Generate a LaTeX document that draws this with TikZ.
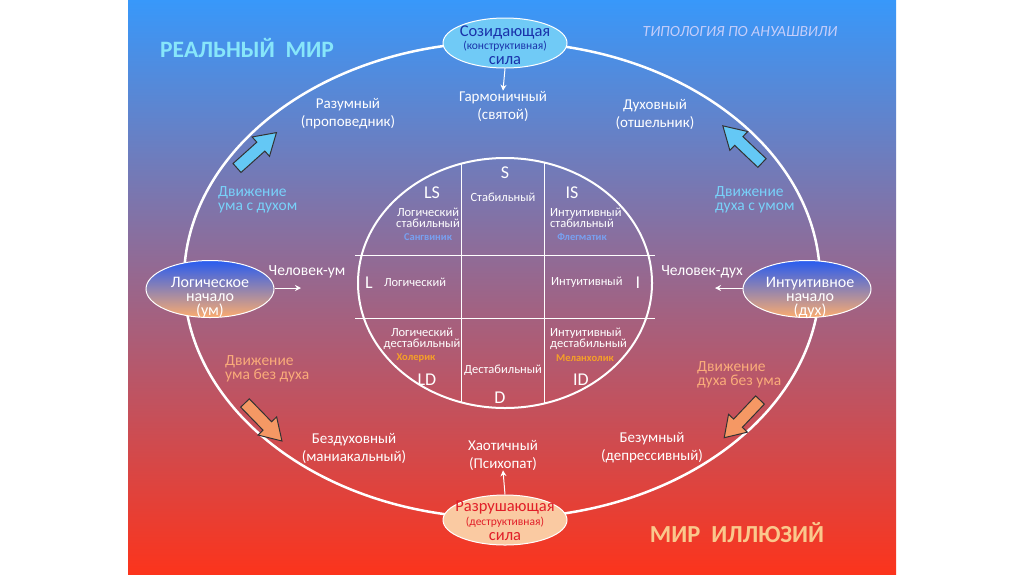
\documentclass[tikz,border=0pt]{standalone}
\usepackage{fontspec}
\setmainfont{Carlito}
\usetikzlibrary{shapes.geometric,arrows.meta}
\definecolor{bgtop}{RGB}{56,152,250}
\definecolor{bgmid}{RGB}{196,96,178}
\definecolor{bgbot}{RGB}{252,52,28}
\definecolor{realc}{RGB}{135,230,250}
\definecolor{typc}{RGB}{198,206,250}
\definecolor{illc}{RGB}{250,200,140}
\definecolor{moveblue}{RGB}{120,210,250}
\definecolor{movepeach}{RGB}{250,172,122}
\definecolor{sangc}{RGB}{120,160,240}
\definecolor{cholc}{RGB}{245,160,40}
\definecolor{topfill}{RGB}{112,202,246}
\definecolor{toptext}{RGB}{25,50,170}
\definecolor{botfill}{RGB}{250,202,162}
\definecolor{bottext}{RGB}{225,30,40}
\definecolor{ablue}{RGB}{100,200,245}
\definecolor{aorange}{RGB}{245,152,100}
\definecolor{ellblue}{RGB}{40,92,240}
\definecolor{ellmid}{RGB}{196,112,172}
\definecolor{ellorange}{RGB}{252,172,110}
\begin{document}
\begin{tikzpicture}[x=1pt,y=-1pt,
  lbl/.style={text=white,font=\fontsize{15}{18}\selectfont,align=center,inner sep=0pt},
  inn/.style={text=white,font=\fontsize{12.5}{11.5}\selectfont,align=center,inner sep=0pt},
  innl/.style={inn,align=left,anchor=west},
  big/.style={text=white,font=\fontsize{18}{20}\selectfont,inner sep=0pt},
  tiny/.style={font=\fontsize{10.5}{10}\selectfont\bfseries,inner sep=0pt},
  move/.style={font=\fontsize{15.5}{14.5}\selectfont,align=left,anchor=west,inner sep=0pt},
  sideell/.style={ellipse,draw=white,line width=1pt,minimum width=128pt,minimum height=57pt,inner sep=0pt,
     top color=ellblue,middle color=ellmid,bottom color=ellorange},
  sidetext/.style={text=white,align=center,inner sep=0pt,font=\fontsize{16}{14}\selectfont},
  forceell/.style={ellipse,draw=white,line width=1pt,minimum width=124pt,minimum height=50pt,inner sep=0pt},
  ftbig/.style={font=\fontsize{16.5}{16}\selectfont,inner sep=0pt},
  ftsmall/.style={font=\fontsize{11.5}{12}\selectfont,inner sep=0pt},
  conn/.style={white,line width=1pt,-{Stealth[length=6pt,width=6pt]}},
  barrow/.style={draw=black!80,line width=1pt,line join=miter}
]
\useasboundingbox (0,0) rectangle (1024,574);
\fill[white] (0,0) rectangle (1024,574);
\shade[top color=bgtop,middle color=bgmid,bottom color=bgbot] (128,0) rectangle (896,574);

% outer ellipse
\draw[white,line width=2.5pt] (502,280) ellipse [x radius=318pt,y radius=238pt];

% inner ellipse and grid
\draw[white,line width=2pt] (505,283) ellipse [x radius=147pt,y radius=125pt];
\begin{scope}
  \clip (505,283) ellipse [x radius=147pt,y radius=125pt];
  \draw[white,line width=1pt] (461,150) -- (461,420) (544,150) -- (544,420);
\end{scope}
\draw[white,line width=1pt] (355,255) -- (655,255) (355,318) -- (655,318);

% titles
\node[text=realc,font=\fontsize{23.5}{24}\selectfont\bfseries,inner sep=0pt] (real) at (247,48) {РЕАЛЬНЫЙ\ \ МИР};
\node[text=typc,font=\fontsize{15.5}{16}\selectfont\itshape,inner sep=0pt] (typ) at (740,32) {ТИПОЛОГИЯ ПО АНУАШВИЛИ};
\node[text=illc,font=\fontsize{24.5}{26}\selectfont\bfseries,inner sep=0pt] (ill) at (737,533) {МИР\ \ ИЛЛЮЗИЙ};

% inner texts
\node[big] (S) at (505,173) {S};
\node[inn] (stab) at (503,197) {Стабильный};
\node[big] (LS) at (432,193) {LS};
\node[inn] (lstab) at (428,218) {Логический\\стабильный};
\node[tiny,text=sangc] (sang) at (428,237) {Сангвиник};
\node[big] (IS) at (572,193) {IS};
\node[innl] (istab) at (550,218) {Интуитивный\\стабильный};
\node[tiny,text=sangc] (fleg) at (582,237) {Флегматик};
\node[big] (L) at (369,283) {L};
\node[inn] (log) at (415,282) {Логический};
\node[innl] (intu) at (551,282) {Интуитивный};
\node[big] (I) at (638,283) {I};
\node[inn] (ldest) at (422,339) {Логический\\дестабильный};
\node[tiny,text=cholc] (chol) at (416,358) {Холерик};
\node[big] (LD) at (427,380) {LD};
\node[inn] (dest) at (503,370) {Дестабильный};
\node[big] (D) at (500,398) {D};
\node[innl] (idest) at (550,339) {Интуитивный\\дестабильный};
\node[tiny,text=cholc] (mel) at (585,358) {Меланхолик};
\node[big] (ID) at (581,380) {ID};

% outer labels
\node[lbl] (harm) at (503,106) {Гармоничный\\(святой)};
\node[lbl] (razum) at (348,114) {Разумный\\(проповедник)};
\node[lbl] (duh) at (655,114) {Духовный\\(отшельник)};
\node[lbl] (bezd) at (354,448) {Бездуховный\\(маниакальный)};
\node[lbl] (bezum) at (652,448) {Безумный\\(депрессивный)};
\node[lbl] (chaos) at (503,455) {Хаотичный\\(Психопат)};

\node[move,text=moveblue] (m1) at (218,200) {Движение\\ума с духом};
\node[move,text=moveblue] (m2) at (715,200) {Движение\\духа с умом};
\node[move,text=movepeach] (m3) at (225,369) {Движение\\ума без духа};
\node[move,text=movepeach] (m4) at (697,375) {Движение\\духа без ума};

\node[lbl,font=\fontsize{15.5}{16}\selectfont] (chum) at (307,272) {Человек-ум};
\node[lbl,font=\fontsize{15.5}{16}\selectfont] (chduh) at (702,272) {Человек-дух};

% force ellipses
\node[forceell,fill=topfill] (create) at (505,43) {};
\node[ftbig,text=toptext] (c1) at (505,32) {Созидающая};
\node[ftsmall,text=toptext] (c2) at (505,46) {(конструктивная)};
\node[ftbig,text=toptext] (c3) at (505,61) {сила};

\node[forceell,fill=botfill] (destr) at (505,520) {};
\node[ftbig,text=bottext] (d1) at (505,508) {Разрушающая};
\node[ftsmall,text=bottext] (d2) at (505,522) {(деструктивная)};
\node[ftbig,text=bottext] (d3) at (505,537) {сила};

% side ellipses
\node[sideell] (logic) at (210,289) {};
\node[sidetext] (logict) at (210,298) {Логическое\\начало\\(ум)};
\node[sideell] (intuit) at (807,289) {};
\node[sidetext] (intuitt) at (810,298) {Интуитивное\\начало\\(дух)};

% connectors
\coordinate (umEnd) at (301,288);
\coordinate (duhEnd) at (715,288);
\draw[conn] (logic.east |- umEnd) -- (umEnd);
\draw[conn] (intuit.west |- duhEnd) -- (duhEnd);
\draw[conn] (create.south) -- (harm.north);
\draw[conn] (destr.north) -- (chaos.south);

% block arrows
\begin{scope}[shift={(237,168)},rotate=41.9]
  \draw[barrow,fill=ablue] (0,-6) -- (32,-6) -- (32,-13) -- (53,0) -- (32,13) -- (32,6) -- (0,6) -- cycle;
\end{scope}
\begin{scope}[shift={(762,163)},rotate=136.5]
  \draw[barrow,fill=ablue] (0,-6) -- (32,-6) -- (32,-13) -- (54,0) -- (32,13) -- (32,6) -- (0,6) -- cycle;
\end{scope}
\begin{scope}[shift={(245,403)},rotate=-45.8]
  \draw[barrow,fill=aorange] (0,-6) -- (32,-6) -- (32,-13) -- (53,0) -- (32,13) -- (32,6) -- (0,6) -- cycle;
\end{scope}
\begin{scope}[shift={(760,400)},rotate=-133.5]
  \draw[barrow,fill=aorange] (0,-6) -- (32,-6) -- (32,-13) -- (52,0) -- (32,13) -- (32,6) -- (0,6) -- cycle;
\end{scope}
\end{tikzpicture}
\end{document}
